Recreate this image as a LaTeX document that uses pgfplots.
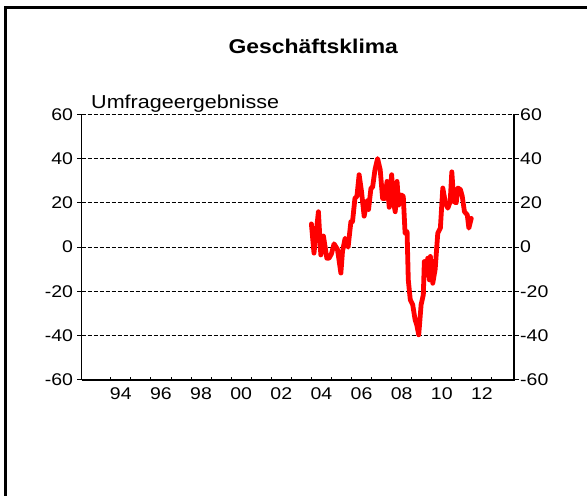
\documentclass[border=0pt]{standalone}
\usepackage{fontspec}
\setmainfont{Liberation Sans}[FakeStretch=1.15]
\usepackage{pgfplots}
\pgfplotsset{compat=1.18}
\pgfplotsset{common/.style={scale only axis, width=432.3bp, height=265.7bp,
  at={(81.7bp,116bp)}, anchor=south west,
  xmin=1992.55, xmax=2014.1, ymin=-60, ymax=60,
  tick label style={font=\fontsize{17}{19}\selectfont},
  axis line style={black, line width=1.2bp}}}
\begin{document}
\begin{tikzpicture}
\path[use as bounding box] (0,0) rectangle (587bp,496bp);
\draw[black, line width=3bp] (5.5bp,-2bp) -- (5.5bp,488bp) -- (590bp,488bp);
\node[anchor=base, inner sep=0pt, font=\bfseries\fontsize{20}{23}\selectfont] at (313.3bp,442.7bp) {Geschäftsklima};
\node[anchor=base west, inner sep=0pt, font=\fontsize{18.8}{21}\selectfont] at (91bp,387bp) {Umfrageergebnisse};
\begin{axis}[common,
  axis x line*=bottom, axis y line*=left,
  tick align=outside, major tick length=4.5bp,
  xtick={1994.5,1996.5,1998.5,2000.5,2002.5,2004.5,2006.5,2008.5,2010.5,2012.5},
  xticklabels={94,96,98,00,02,04,06,08,10,12},
  xtick style={draw=none},
  ytick={-60,-40,-20,0,20,40,60},
  yticklabels={-60,-40,-20,0,20,40,60},
  ytick style={black, line width=1bp},
  yticklabel style={inner xsep=4bp},
  ymajorgrids,
  major grid style={black, line width=0.9bp, dash pattern=on 4bp off 2bp},
]
\addplot[color={rgb,255:red,255;green,0;blue,0}, line width=4.8bp, line join=round, line cap=round] table {
x y
2004.00 10.5
2004.13 -2.7
2004.35 16.0
2004.47 -3.5
2004.60 5.0
2004.77 -5.0
2004.88 -5.0
2005.00 -3.0
2005.13 1.5
2005.30 -1.0
2005.47 -11.7
2005.55 -2.0
2005.68 4.0
2005.83 0.0
2005.97 11.5
2006.05 11.5
2006.17 22.0
2006.27 23.0
2006.38 32.7
2006.50 25.0
2006.63 14.0
2006.77 21.0
2006.85 17.0
2006.97 26.7
2007.05 27.0
2007.17 35.0
2007.30 40.0
2007.43 35.0
2007.55 22.0
2007.67 22.0
2007.77 29.7
2007.88 18.0
2008.00 32.7
2008.10 20.0
2008.18 16.0
2008.27 29.7
2008.35 19.0
2008.47 23.6
2008.58 23.0
2008.67 6.3
2008.77 7.0
2008.83 -14.8
2008.93 -23.8
2009.05 -26.0
2009.17 -32.8
2009.25 -35.0
2009.35 -39.6
2009.47 -26.0
2009.58 -21.5
2009.63 -6.5
2009.72 -11.7
2009.80 -5.0
2009.88 -14.8
2009.93 -4.2
2010.05 -16.3
2010.17 -10.0
2010.30 6.3
2010.43 8.6
2010.55 26.7
2010.67 20.6
2010.80 17.6
2010.92 20.6
2011.00 34.0
2011.10 20.6
2011.22 20.0
2011.30 26.7
2011.43 26.0
2011.52 23.0
2011.63 16.0
2011.77 14.6
2011.85 8.6
2011.97 13.0
};
\end{axis}
\begin{axis}[common,
  axis x line=none, axis y line*=right,
  tick align=outside, major tick length=4.5bp,
  ytick={-60,-40,-20,0,20,40,60},
  yticklabels={-60,-40,-20,0,20,40,60},
  ytick style={black, line width=1bp},
  yticklabel style={inner xsep=1.5bp},
]
\end{axis}
\begin{axis}[common,
  axis x line*=bottom, axis y line=none,
  tick align=inside, major tick length=3bp,
  xtick={1994,1995,...,2013},
  xticklabels={},
  xtick style={black, line width=0.9bp},
]
\end{axis}
\end{tikzpicture}
\end{document}
